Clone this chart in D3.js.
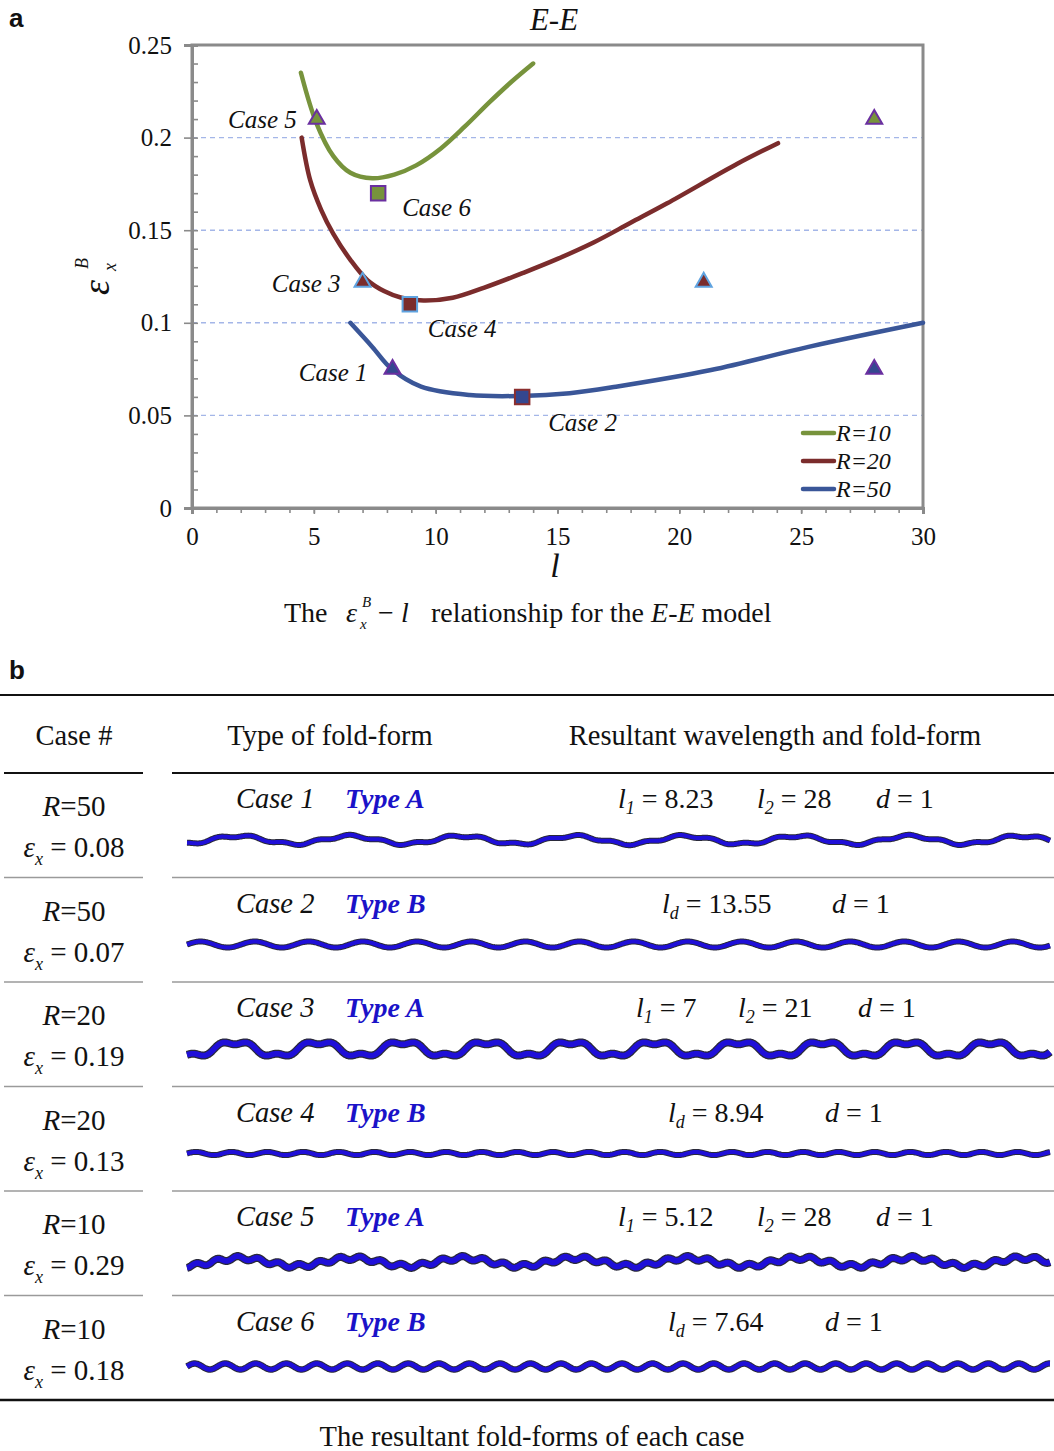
<!DOCTYPE html>
<html><head><meta charset="utf-8">
<script src="https://cdn.jsdelivr.net/npm/d3@7"></script>
<style>
body{margin:0;background:#fff}
svg{display:block}
text{font-family:"Liberation Serif","Times New Roman",serif;fill:#111}
</style>
</head><body>
<svg id="c" width="1054" height="1451"></svg>
<script>
// ---------------- DATA ----------------
const seriesNames = ["R=10", "R=20", "R=50"];
const curveR10 = [[4.47,0.235],[5.1,0.208],[5.8,0.19],[6.5,0.181],[7.4,0.178],[8.3,0.18],[9.2,0.185],[10.2,0.194],[11.2,0.206],[12.2,0.219],[13.1,0.23],[14.0,0.24]];
const curveR20 = [[4.5,0.2],[4.85,0.177],[5.3,0.161],[5.8,0.148],[6.5,0.134],[7.2,0.123],[7.9,0.117],[8.6,0.1135],[9.5,0.112],[10.7,0.1135],[12.0,0.119],[13.6,0.127],[15.0,0.1345],[16.5,0.1435],[18.0,0.154],[19.5,0.1645],[22.4,0.186],[24.05,0.197]];
const curveR50 = [[6.5,0.1],[7.4,0.087],[8.2,0.075],[9.4,0.0655],[11.4,0.061],[13.5,0.0605],[15.5,0.062],[17.4,0.0655],[21.3,0.0745],[25.3,0.087],[30,0.1]];

const caseLabels = ["Case 1","Case 2","Case 3","Case 4","Case 5","Case 6"];
const caseX = [8.23, 13.55, 7, 8.94, 5.12, 7.64];
const caseY = [0.075, 0.06, 0.122, 0.11, 0.21, 0.17];
const caseShape = ["tri","sq","tri","sq","tri","sq"];
const caseSeries = [2, 2, 1, 1, 0, 0];
// second-wavelength markers (l2)
const l2X = [28, 21, 28];
const l2Y = [0.075, 0.122, 0.21];
const l2Series = [2, 1, 0];

const xTicks = [0, 5, 10, 15, 20, 25, 30];
const xTickLabels = ["0","5","10","15","20","25","30"];
const yTicks = [0, 0.05, 0.1, 0.15, 0.2, 0.25];
const yTickLabels = ["0","0.05","0.1","0.15","0.2","0.25"];
const gridY = [0.05, 0.1, 0.15, 0.2];

// table
const tableHeaders = ["Case #", "Type of fold-form", "Resultant wavelength and fold-form"];
const tableR = ["50","50","20","20","10","10"];
const tableEps = ["0.08","0.07","0.19","0.13","0.29","0.18"];
const tableCase = ["Case 1","Case 2","Case 3","Case 4","Case 5","Case 6"];
const tableType = ["A","B","A","B","A","B"];
const tableL1 = [8.23, null, 7, null, 5.12, null];
const tableL2 = [28, null, 21, null, 28, null];
const tableLd = [null, 13.55, null, 8.94, null, 7.64];
const tableD = [1, 1, 1, 1, 1, 1];

// ---------------- STYLE / LAYOUT ----------------
const colors = ["#77933C", "#7B2C2C", "#3A5698"];
const markerFill = ["#77933C", "#7B2C2C", "#34478F"];
const markerStroke = ["#6A2FA0", "#5FA3E0", "#6A2FA0"];
const sqFill = ["#77933C", "#7B2C2C", "#34478F"];
const sqStroke = ["#6A2FA0", "#5FA3E0", "#8B2E2E"];
const labelOff = [[-25,12,"end"],[26,34,"start"],[-22,10,"end"],[18,33,"start"],[-20,9,"end"],[24,23,"start"]];
const waveAmp1 = [1.2, 3.0, 2.3, 1.6, 2.0, 3.0];
const waveAmp2 = [4.0, 0, 7.0, 0, 4.0, 0];
const waveShift = [-5.75, 0, -6.75, 0, -6.25, 0];
const waveStroke = [[6, 4],[6, 4],[8, 5.5],[6, 4],[8, 5.5],[6.5, 4.5]];
const paramX = [[618,757,876],[662,832],[636,738,858],[668,825],[618,757,876],[668,825]];

const svg = d3.select("#c");
const serif = '"Liberation Serif","Times New Roman",serif';
const sans = '"Liberation Sans",Arial,sans-serif';

// ---------------- PANEL a ----------------
const x = d3.scaleLinear().domain([0, 30]).range([192, 923]);
const y = d3.scaleLinear().domain([0, 0.25]).range([508, 45]);

svg.append("text").attr("x", 9).attr("y", 27).style("font-family", sans)
  .style("font-weight", "bold").style("font-size", "26px").text("a");
svg.append("text").attr("x", 554).attr("y", 30).attr("text-anchor", "middle")
  .style("font-style", "italic").style("font-size", "31px").text("E-E");

// gridlines
svg.append("g").selectAll("line").data(gridY).join("line")
  .attr("x1", x(0)).attr("x2", x(30)).attr("y1", d => y(d)).attr("y2", d => y(d))
  .attr("stroke", "#A4B6E8").attr("stroke-width", 1.4).attr("stroke-dasharray", "5,4");

// frame
svg.append("rect").attr("x", x(0)).attr("y", y(0.25)).attr("width", x(30) - x(0)).attr("height", y(0) - y(0.25))
  .attr("fill", "none").attr("stroke", "#8A8A8A").attr("stroke-width", 3);

// axes
const axisColor = "#8A8A8A";
const gy = svg.append("g").attr("transform", `translate(${x(0)},0)`)
  .call(d3.axisLeft(y).tickValues(yTicks).tickSize(8).tickPadding(12).tickFormat((d, i) => yTickLabels[i]));
const gyMinor = svg.append("g").attr("transform", `translate(${x(0)},0)`)
  .call(d3.axisLeft(y).tickValues(d3.range(0, 0.2501, 0.01)).tickSize(-6).tickFormat(""));
const gx = svg.append("g").attr("transform", `translate(0,${y(0)})`)
  .call(d3.axisBottom(x).tickValues(xTicks).tickSize(6).tickPadding(8).tickFormat((d, i) => xTickLabels[i]));
const gxMinor = svg.append("g").attr("transform", `translate(0,${y(0)})`)
  .call(d3.axisBottom(x).tickValues(d3.range(0, 30.01, 1)).tickSize(5).tickFormat(""));
[gy, gyMinor, gx, gxMinor].forEach(g => {
  g.selectAll("path").attr("stroke", axisColor).attr("stroke-width", 3);
  g.selectAll("line").attr("stroke", axisColor).attr("stroke-width", 1.6);
  g.selectAll("text").style("font-family", serif).style("font-size", "25px").attr("fill", "#111");
});
gx.selectAll("text").attr("dy", "0.9em");

// axis titles
svg.append("text").attr("x", 555).attr("y", 577).attr("text-anchor", "middle")
  .style("font-style", "italic").style("font-size", "34px").text("l");
const yl = svg.append("text").attr("transform", "translate(109,295) rotate(-90)")
  .style("font-style", "italic");
yl.append("tspan").attr("x", 0).attr("y", 0).style("font-size", "38px").text("ε");
yl.append("tspan").attr("x", 26).attr("y", -21).style("font-size", "18px").text("B");
yl.append("tspan").attr("x", 24).attr("y", 7).style("font-size", "18px").text("x");

// curves
const line = d3.line().x(d => x(d[0])).y(d => y(d[1])).curve(d3.curveCatmullRom.alpha(0.5));
[curveR10, curveR20, curveR50].forEach((c, i) => {
  svg.append("path").datum(c).attr("d", line).attr("fill", "none")
    .attr("stroke", colors[i]).attr("stroke-width", 4.5).attr("stroke-linecap", "round");
});

// markers
const tri = d3.symbol().type(d3.symbolTriangle).size(110);
const sq = d3.symbol().type(d3.symbolSquare).size(210);
caseX.forEach((cx, i) => {
  const s = caseSeries[i];
  const isTri = caseShape[i] === "tri";
  svg.append("path").attr("d", isTri ? tri() : sq())
    .attr("transform", `translate(${x(cx)},${y(caseY[i])})`)
    .attr("fill", isTri ? markerFill[s] : sqFill[s])
    .attr("stroke", isTri ? markerStroke[s] : sqStroke[s]).attr("stroke-width", 2);
  const o = labelOff[i];
  svg.append("text").attr("x", x(cx) + o[0]).attr("y", y(caseY[i]) + o[1])
    .attr("text-anchor", o[2]).style("font-style", "italic").style("font-size", "25px").text(caseLabels[i]);
});
l2X.forEach((lx, i) => {
  const s = l2Series[i];
  svg.append("path").attr("d", tri()).attr("transform", `translate(${x(lx)},${y(l2Y[i])})`)
    .attr("fill", markerFill[s]).attr("stroke", markerStroke[s]).attr("stroke-width", 2);
});

// legend
seriesNames.forEach((n, i) => {
  const ly = 433 + i * 28;
  svg.append("line").attr("x1", 803).attr("x2", 834).attr("y1", ly).attr("y2", ly)
    .attr("stroke", colors[i]).attr("stroke-width", 4.5).attr("stroke-linecap", "round");
  svg.append("text").attr("x", 836).attr("y", ly + 8).style("font-style", "italic")
    .style("font-size", "24px").text(n);
});

// caption a
const cap = svg.append("text").attr("y", 622).style("font-size", "28px");
cap.append("tspan").attr("x", 284).text("The");
cap.append("tspan").attr("x", 346).style("font-style", "italic").text("ε");
cap.append("tspan").attr("x", 362).attr("y", 607).style("font-style", "italic").style("font-size", "15px").text("B");
cap.append("tspan").attr("x", 360).attr("y", 629).style("font-style", "italic").style("font-size", "15px").text("x");
cap.append("tspan").attr("x", 378).attr("y", 622).text("−");
cap.append("tspan").attr("x", 401).style("font-style", "italic").text("l");
cap.append("tspan").attr("x", 431).text("relationship for the ");
cap.append("tspan").style("font-style", "italic").text("E-E");
cap.append("tspan").text(" model");

// ---------------- PANEL b ----------------
svg.append("text").attr("x", 9).attr("y", 679).style("font-family", sans)
  .style("font-weight", "bold").style("font-size", "26px").text("b");

const rowTop = 773, rowH = 104.5;
// rules
svg.append("line").attr("x1", 0).attr("x2", 1054).attr("y1", 695).attr("y2", 695).attr("stroke", "#111").attr("stroke-width", 2.2);
svg.append("line").attr("x1", 0).attr("x2", 1054).attr("y1", 1400).attr("y2", 1400).attr("stroke", "#111").attr("stroke-width", 2.5);
[[4,143],[172,1054]].forEach(seg => {
  svg.append("line").attr("x1", seg[0]).attr("x2", seg[1]).attr("y1", rowTop).attr("y2", rowTop).attr("stroke", "#111").attr("stroke-width", 2);
  for (let r = 1; r < 6; r++) {
    const yy = rowTop + r * rowH;
    svg.append("line").attr("x1", seg[0]).attr("x2", seg[1]).attr("y1", yy).attr("y2", yy).attr("stroke", "#9A9A9A").attr("stroke-width", 1.6);
  }
});
// headers
const hx = [74, 330, 775];
tableHeaders.forEach((h, i) => {
  svg.append("text").attr("x", hx[i]).attr("y", 745).attr("text-anchor", "middle").style("font-size", "28.5px").text(h);
});

const wx = d3.scaleLinear().domain([0, 216]).range([187, 1050]);
const wy = d3.scaleLinear().domain([-1, 1]).range([1, -1]);

tableR.forEach((rv, i) => {
  const top = rowTop + i * rowH;
  // column 1
  const t1 = svg.append("text").attr("x", 74).attr("y", top + 43).attr("text-anchor", "middle").style("font-size", "29px");
  t1.append("tspan").style("font-style", "italic").text("R");
  t1.append("tspan").text("=" + rv);
  const t2 = svg.append("text").attr("x", 74).attr("y", top + 84).attr("text-anchor", "middle").style("font-size", "29px");
  t2.append("tspan").style("font-style", "italic").text("ε");
  t2.append("tspan").attr("dy", 8).style("font-style", "italic").style("font-size", "18px").text("x");
  t2.append("tspan").attr("dy", -8).text(" = " + tableEps[i]);
  // column 2
  svg.append("text").attr("x", 236).attr("y", top + 35).style("font-style", "italic").style("font-size", "28.5px").text(tableCase[i]);
  svg.append("text").attr("x", 345).attr("y", top + 35).style("font-style", "italic").style("font-weight", "bold")
    .style("font-size", "28px").style("fill", "#1A12C8").text("Type " + tableType[i]);
  // params
  const params = tableType[i] === "A"
    ? [["l", "1", tableL1[i]], ["l", "2", tableL2[i]], ["d", "", tableD[i]]]
    : [["l", "d", tableLd[i]], ["d", "", tableD[i]]];
  params.forEach((p, k) => {
    const t = svg.append("text").attr("x", paramX[i][k]).attr("y", top + 35).style("font-size", "28px");
    t.append("tspan").style("font-style", "italic").text(p[0]);
    if (p[1]) {
      t.append("tspan").attr("dy", 6).style("font-style", "italic").style("font-size", "18px").text(p[1]);
      t.append("tspan").attr("dy", -6).text(" = " + p[2]);
    } else {
      t.append("tspan").text(" = " + p[2]);
    }
  });
  // fold-form wave
  const cy = top + (i < 4 ? 67 : 71);
  const L1 = tableType[i] === "A" ? tableL1[i] : tableLd[i];
  const L2 = tableL2[i];
  const pts = d3.range(0, 216.01, 0.25).map(u => {
    const uu = u + waveShift[i];
    let v = waveAmp1[i] * Math.sin(2 * Math.PI * uu / L1);
    if (L2) v += waveAmp2[i] * Math.sin(2 * Math.PI * uu / L2);
    return [u, v];
  });
  const wl = d3.line().x(d => wx(d[0])).y(d => cy + wy(d[1])).curve(d3.curveLinear);
  svg.append("path").datum(pts).attr("d", wl).attr("fill", "none").attr("stroke", "#2A2A3A")
    .attr("stroke-width", waveStroke[i][0]).attr("stroke-linejoin", "round");
  svg.append("path").datum(pts).attr("d", wl).attr("fill", "none").attr("stroke", "#1F0FD8")
    .attr("stroke-width", waveStroke[i][1]).attr("stroke-linejoin", "round");
});

svg.append("text").attr("x", 532).attr("y", 1446).attr("text-anchor", "middle").style("font-size", "28.5px")
  .text("The resultant fold-forms of each case");
</script>
</body></html>
